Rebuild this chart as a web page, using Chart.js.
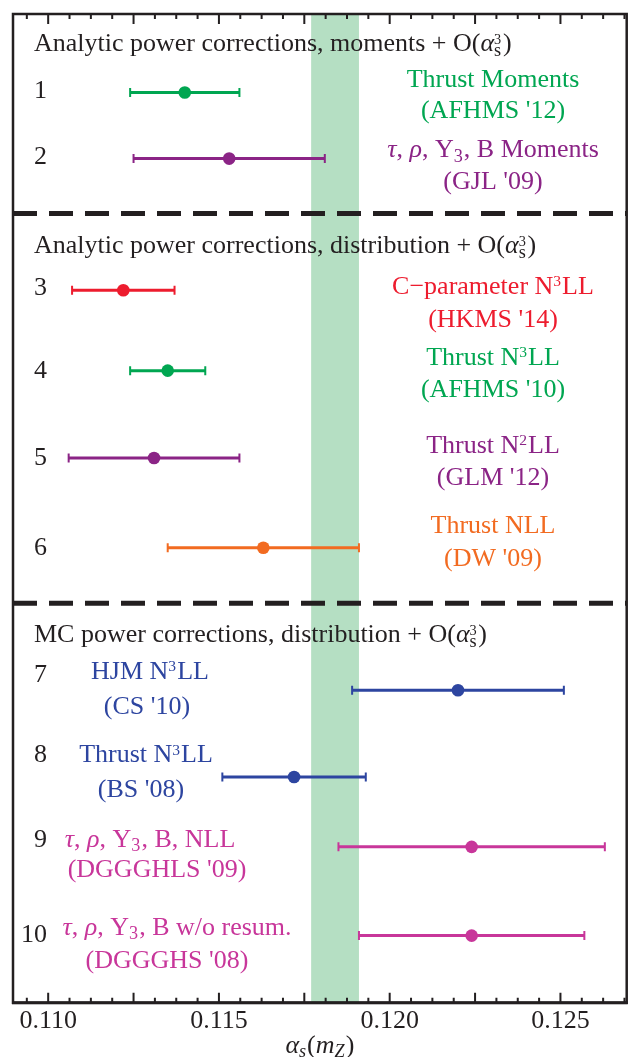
<!DOCTYPE html>
<html>
<head>
<meta charset="utf-8">
<script src="https://cdn.jsdelivr.net/npm/chart.js@4.4.1/dist/chart.umd.min.js"></script>
<style>
  html, body { margin: 0; padding: 0; background: #fff; }
  canvas { display: block; }
</style>
</head>
<body>
<canvas id="alphas-chart" width="633" height="1057"></canvas>
<script>
const canvas = document.getElementById("alphas-chart");

// fit results: central value and lower / upper end of the error bar
const rowNumbers = ["1", "2", "3", "4", "5", "6", "7", "8", "9", "10"];
const centralValues = [0.1140, 0.1153, 0.1122, 0.1135, 0.1131, 0.1163, 0.1220, 0.1172, 0.1224, 0.1224];
const lowerValues = [0.1124, 0.1125, 0.1107, 0.1124, 0.1106, 0.1135, 0.1189, 0.1151, 0.1185, 0.1191];
const upperValues = [0.1156, 0.1181, 0.1137, 0.1146, 0.1156, 0.1191, 0.1251, 0.1193, 0.1263, 0.1257];

const labelLine1 = [
  "Thrust Moments",
  "τ, ρ, Y_3, B Moments",
  "C−parameter N^3LL",
  "Thrust N^3LL",
  "Thrust N^2LL",
  "Thrust NLL",
  "HJM N^3LL",
  "Thrust N^3LL",
  "τ, ρ, Y_3, B, NLL",
  "τ, ρ, Y_3, B w/o resum.",
];
const labelLine2 = [
  "(AFHMS '12)", "(GJL '09)", "(HKMS '14)", "(AFHMS '10)", "(GLM '12)",
  "(DW '09)", "(CS '10)", "(BS '08)", "(DGGGHLS '09)", "(DGGGHS '08)",
];
const sectionTitles = [
  "Analytic power corrections, moments + O(α_s^3)",
  "Analytic power corrections, distribution + O(α_s^3)",
  "MC power corrections, distribution + O(α_s^3)",
];
const worldAverageBand = [0.1177, 0.1191];
const xTickLabels = [0.110, 0.115, 0.120, 0.125];

const rowColors = [
  "#00a651", "#8b2486", "#ed1c2e", "#00a651", "#8b2486",
  "#f26b21", "#2d45a0", "#2d45a0", "#c8369a", "#c8369a",
];

// vertical layout (y axis runs 0 at top .. 99.17 at bottom)
const rowY = [7.87, 14.5, 27.7, 35.77, 44.53, 53.53, 67.83, 76.53, 83.53, 92.43];
const numberY = [7.6, 14.3, 27.4, 35.77, 44.5, 53.5, 66.17, 74.27, 82.77, 92.27];
const line1Y = [6.5, 13.6, 27.27, 34.4, 43.27, 51.27, 65.9, 74.27, 82.77, 91.6];
const line2Y = [9.6, 16.8, 30.6, 37.6, 46.5, 54.6, 69.4, 77.77, 85.77, 94.93];
const sectionY = [2.9, 23.17, 62.2];
const separatorY = [20.0, 59.1];
// label centres in pixels (line 1, line 2)
const labelX = [
  [493, 493], [493, 493], [493, 493], [493, 493], [493, 493], [493, 493],
  [150, 147], [146, 141], [150, 157], [177, 167],
];

const INK = "#231f20";
const FONT = '"Liberation Serif", "Times New Roman", serif';
const SIZE = 26;

// tiny markup: _x subscript, ^x superscript, _x^y stacked, greek letters italic
function parseRich(str) {
  const parts = [];
  let run = "";
  const flush = () => { if (run) { parts.push({ text: run }); run = ""; } };
  for (let i = 0; i < str.length; i++) {
    const ch = str[i];
    if (ch === "_") {
      flush();
      if (str[i + 2] === "^") {
        parts.push({ sub: str[i + 1], sup: str[i + 3] });
        i += 3;
      } else {
        parts.push({ sub: str[i + 1] });
        i += 1;
      }
    } else if (ch === "^") {
      flush();
      parts.push({ sup: str[i + 1] });
      i += 1;
    } else if (/[α-ω]/.test(ch)) {
      flush();
      parts.push({ text: ch, italic: true });
    } else {
      run += ch;
    }
  }
  flush();
  return parts;
}

function fontOf(size, italic) {
  return (italic ? "italic " : "") + size + "px " + FONT;
}

function partWidth(ctx, p, size) {
  if (p.text !== undefined) {
    ctx.font = fontOf(size, p.italic);
    return ctx.measureText(p.text).width;
  }
  let w = 0;
  if (p.sub) { ctx.font = fontOf(size * 0.7, p.subItalic); w = Math.max(w, ctx.measureText(p.sub).width); }
  if (p.sup) { ctx.font = fontOf(size * 0.6, false); w = Math.max(w, ctx.measureText(p.sup).width); }
  return w + 1;
}

function drawRich(ctx, parts, x, yCenter, size, align, color) {
  const widths = parts.map((p) => partWidth(ctx, p, size));
  const total = widths.reduce((a, b) => a + b, 0);
  let cx = align === "center" ? x - total / 2 : align === "right" ? x - total : x;
  const base = yCenter + size * 0.3;
  ctx.fillStyle = color;
  ctx.textAlign = "left";
  ctx.textBaseline = "alphabetic";
  parts.forEach((p, i) => {
    if (p.text !== undefined) {
      ctx.font = fontOf(size, p.italic);
      ctx.fillText(p.text, cx, base);
    } else {
      const stacked = p.sub && p.sup;
      if (p.sub) {
        ctx.font = fontOf(size * 0.7, p.subItalic);
        ctx.fillText(p.sub, cx, base + size * (stacked ? 0.2 : 0.16));
      }
      if (p.sup) {
        ctx.font = fontOf(size * (stacked ? 0.55 : 0.6), false);
        ctx.fillText(p.sup, cx, base - size * (stacked ? 0.27 : 0.3));
      }
    }
    cx += widths[i];
  });
}

const forestPlugin = {
  id: "forest",
  beforeDatasetsDraw(chart) {
    const { ctx, chartArea: a, scales: { x, y } } = chart;
    ctx.save();

    // world average band
    const b0 = x.getPixelForValue(worldAverageBand[0]);
    const b1 = x.getPixelForValue(worldAverageBand[1]);
    ctx.fillStyle = "#b5dfc3";
    ctx.fillRect(b0, a.top, b1 - b0, a.bottom - a.top);

    // section separators
    ctx.strokeStyle = INK;
    ctx.lineWidth = 5;
    ctx.setLineDash([24, 12]);
    separatorY.forEach((s) => {
      const py = y.getPixelForValue(s);
      ctx.beginPath();
      ctx.moveTo(a.left, py);
      ctx.lineTo(a.right, py);
      ctx.stroke();
    });
    ctx.setLineDash([]);

    // error bars
    centralValues.forEach((c, i) => {
      const py = y.getPixelForValue(rowY[i]);
      const x0 = x.getPixelForValue(lowerValues[i]);
      const x1 = x.getPixelForValue(upperValues[i]);
      ctx.strokeStyle = rowColors[i];
      ctx.lineWidth = 3;
      ctx.beginPath();
      ctx.moveTo(x0, py);
      ctx.lineTo(x1, py);
      ctx.stroke();
      ctx.lineWidth = 2;
      ctx.beginPath();
      ctx.moveTo(x0, py - 4.5);
      ctx.lineTo(x0, py + 4.5);
      ctx.moveTo(x1, py - 4.5);
      ctx.lineTo(x1, py + 4.5);
      ctx.stroke();
    });
    ctx.restore();
  },
  afterDraw(chart) {
    const { ctx, chartArea: a, scales: { x, y } } = chart;
    ctx.save();

    // section titles
    sectionTitles.forEach((t, i) => {
      drawRich(ctx, parseRich(t), a.left + 21, y.getPixelForValue(sectionY[i]), SIZE, "left", INK);
    });

    // row numbers and labels
    rowNumbers.forEach((n, i) => {
      drawRich(ctx, [{ text: n }], a.left + 34, y.getPixelForValue(numberY[i]), SIZE, "right", INK);
      drawRich(ctx, parseRich(labelLine1[i]), labelX[i][0], y.getPixelForValue(line1Y[i]), SIZE, "center", rowColors[i]);
      drawRich(ctx, parseRich(labelLine2[i]), labelX[i][1], y.getPixelForValue(line2Y[i]), SIZE, "center", rowColors[i]);
    });

    // frame
    ctx.strokeStyle = INK;
    ctx.lineWidth = 2.5;
    ctx.strokeRect(a.left, a.top, a.right - a.left, a.bottom - a.top);
    ctx.lineWidth = 3;
    ctx.beginPath();
    ctx.moveTo(a.left - 1, a.bottom);
    ctx.lineTo(a.right + 1, a.bottom);
    ctx.stroke();

    // inward tick marks, top and bottom
    ctx.lineWidth = 2;
    x.ticks.forEach((t) => {
      const q = t.value / 0.000625;
      if (Math.abs(q - Math.round(q)) > 1e-6) return;
      const major = Math.abs(t.value / 0.0025 - Math.round(t.value / 0.0025)) < 1e-6;
      const len = major ? 10 : 5;
      const px = x.getPixelForValue(t.value);
      ctx.beginPath();
      ctx.moveTo(px, a.bottom);
      ctx.lineTo(px, a.bottom - len);
      ctx.moveTo(px, a.top);
      ctx.lineTo(px, a.top + len);
      ctx.stroke();
    });

    // axis title alpha_s(m_Z)
    const title = [
      { text: "α", italic: true },
      { sub: "s", subItalic: true },
      { text: "(" },
      { text: "m", italic: true },
      { sub: "Z", subItalic: true },
      { text: ")" },
    ];
    drawRich(ctx, title, (a.left + a.right) / 2, 1045, SIZE, "center", INK);
    ctx.restore();
  },
};

new Chart(canvas, {
  type: "scatter",
  data: {
    datasets: [
      {
        data: centralValues.map((v, i) => ({ x: v, y: rowY[i] })),
        pointRadius: 6.3,
        pointHoverRadius: 6.3,
        pointBorderWidth: 0,
        pointBackgroundColor: rowColors,
      },
    ],
  },
  options: {
    responsive: false,
    animation: false,
    events: [],
    layout: { padding: { left: 13, right: 5, top: 14, bottom: 17 } },
    plugins: {
      legend: { display: false },
      tooltip: { enabled: false },
    },
    scales: {
      x: {
        type: "linear",
        min: 0.10897,
        max: 0.12694,
        grid: { display: false, drawTicks: false },
        border: { display: false },
        ticks: {
          stepSize: 0.000625,
          autoSkip: false,
          maxRotation: 0,
          minRotation: 0,
          includeBounds: false,
          padding: 3,
          color: INK,
          font: { family: FONT, size: SIZE, lineHeight: 1.2 },
          callback: (value) =>
            xTickLabels.some((m) => Math.abs(m - value) < 1e-7) ? value.toFixed(3) : "",
        },
      },
      y: {
        type: "linear",
        display: false,
        min: 0,
        max: 99.17,
        reverse: true,
      },
    },
  },
  plugins: [forestPlugin],
});
</script>
</body>
</html>
